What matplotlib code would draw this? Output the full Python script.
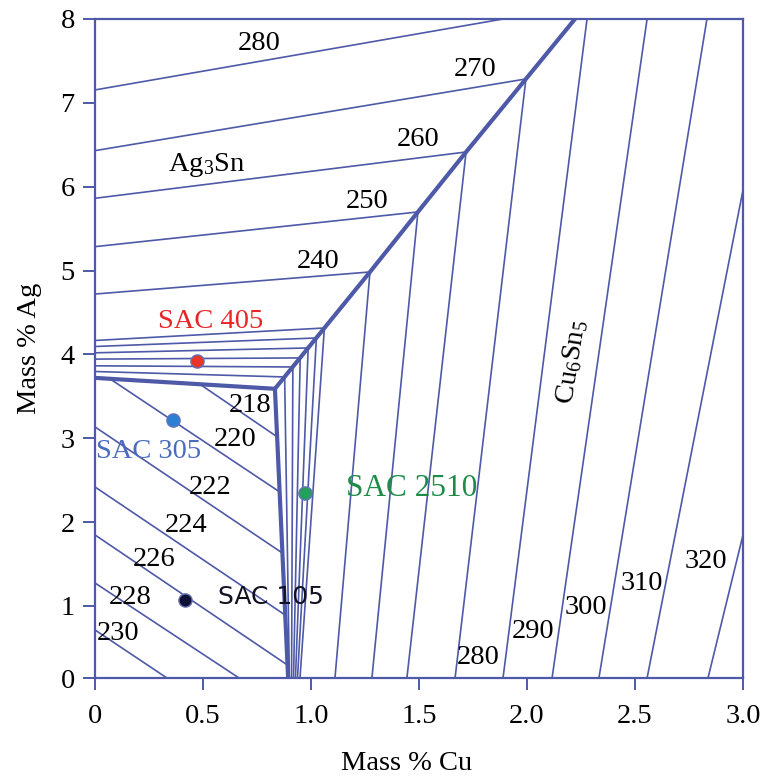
import numpy as np
import matplotlib
matplotlib.use("Agg")
import matplotlib.pyplot as plt

plt.rcParams['font.family'] = ['Liberation Serif', 'DejaVu Serif']
plt.rcParams['mathtext.fontset'] = 'custom'
plt.rcParams['mathtext.rm'] = 'Liberation Serif'
plt.rcParams['mathtext.it'] = 'Liberation Serif:italic'

LINE = '#4E59A8'

# ---------------- data ----------------
x_ticks = [0, 0.5, 1.0, 1.5, 2.0, 2.5, 3.0]
x_ticklabels = ['0', '0.5', '1.0', '1.5', '2.0', '2.5', '3.0']
y_ticks = [0, 1, 2, 3, 4, 5, 6, 7, 8]

# monovariant (thick) boundaries
bnd_left_x = [0.0, 0.833]
bnd_left_y = [3.72, 3.59]
bnd_sn_cu_x = [0.833, 0.894]
bnd_sn_cu_y = [3.59, 0.0]
bnd_ag_cu_x = [0.833, 1.273, 1.495, 1.718, 1.995, 2.222]
bnd_ag_cu_y = [3.59, 4.983, 5.699, 6.414, 7.285, 8.0]

# Sn primary field isotherms (218 ... 230)
sn_labels = ['218', '220', '222', '224', '226', '228', '230']
sn_start_x = [0.486, 0.069, 0.0, 0.0, 0.0, 0.0, 0.0]
sn_start_y = [3.644, 3.709, 3.135, 2.419, 1.847, 1.274, 0.667]
sn_end_x = [0.844, 0.855, 0.867, 0.880, 0.891, 0.667, 0.333]
sn_end_y = [3.016, 2.36, 1.632, 0.875, 0.18, 0.0, 0.0]

# Fine isotherms near the eutectic (Ag3Sn side -> kink -> Cu6Sn5 side)
fan_left_y = [4.166, 4.094, 4.019, 3.944, 3.864, 3.796]
fan_kink_x = [1.062, 1.025, 0.987, 0.950, 0.916, 0.878]
fan_kink_y = [4.315, 4.196, 4.077, 3.958, 3.850, 3.731]
fan_bottom_x = [0.949, 0.9375, 0.928, 0.919, 0.910, 0.900]

# Isotherms 240-270 crossing the Ag3Sn / Cu6Sn5 boundary
mid_labels = ['240', '250', '260', '270']
mid_left_y = [4.72, 5.285, 5.862, 6.43]
mid_kink_x = [1.273, 1.495, 1.718, 1.995]
mid_kink_y = [4.983, 5.699, 6.414, 7.285]
mid_bottom_x = [1.111, 1.282, 1.444, 1.667]

# 280 isotherm in the Ag3Sn field
ag280_x = [0.0, 1.889]
ag280_y = [7.154, 8.0]

# Cu6Sn5 field isotherms 280-320
cu_labels = ['280', '290', '300', '310', '320']
cu_top_x = [2.278, 2.556, 2.833, 3.0, 3.0]
cu_top_y = [8.0, 8.0, 8.0, 5.96, 1.847]
cu_bottom_x = [1.889, 2.116, 2.333, 2.556, 2.838]

# alloys
alloy_names = ['SAC 405', 'SAC 305', 'SAC 2510', 'SAC 105']
alloy_cu = [0.471, 0.3625, 0.972, 0.417]
alloy_ag = [3.925, 3.218, 2.351, 1.071]
alloy_colors = ['#E8352C', '#2C80D3', '#23A05A', '#0E1133']
alloy_text_colors = ['#E8262A', '#4A6CC0', '#1E8C48', '#111122']

# ---------------- figure ----------------
fig = plt.figure(figsize=(7.7, 7.76), dpi=100)
ax = fig.add_axes([95/770, 1-678/776, 648/770, 659/776])

k = 72/83.8
def fwd(y):
    y = np.asarray(y, float)
    return np.where(y < 1, y*k, y - 1 + k)
def inv(t):
    t = np.asarray(t, float)
    return np.where(t < k, t/k, t + 1 - k)
ax.set_yscale('function', functions=(fwd, inv))
ax.set_xlim(0, 3.0)
ax.set_ylim(0, 8)

thin = dict(color=LINE, lw=1.2, solid_capstyle='butt', zorder=2)
thick = dict(color=LINE, lw=3.0, solid_capstyle='round', solid_joinstyle='round', zorder=3)

for sx, sy, ex, ey in zip(sn_start_x, sn_start_y, sn_end_x, sn_end_y):
    ax.plot([sx, ex], [sy, ey], **thin)
for ly, kx, ky, bx in zip(fan_left_y, fan_kink_x, fan_kink_y, fan_bottom_x):
    ax.plot([0, kx, bx], [ly, ky, 0], **thin)
for ly, kx, ky, bx in zip(mid_left_y, mid_kink_x, mid_kink_y, mid_bottom_x):
    ax.plot([0, kx, bx], [ly, ky, 0], **thin)
ax.plot(ag280_x, ag280_y, **thin)
for tx, ty, bx in zip(cu_top_x, cu_top_y, cu_bottom_x):
    ax.plot([tx, bx], [ty, 0], **thin)

ax.plot(bnd_left_x, bnd_left_y, **thick)
ax.plot(bnd_sn_cu_x, bnd_sn_cu_y, **thick)
ax.plot(bnd_ag_cu_x, bnd_ag_cu_y, **thick)

for cx, cy, c in zip(alloy_cu, alloy_ag, alloy_colors):
    ax.plot(cx, cy, 'o', ms=9.5, mfc=c, mec='#6472B8', mew=1.0, zorder=5)

# ---------------- text ----------------
def lab(px, py, s, **kw):
    ax.text((px-95)/648, (678-py)/659, s, transform=ax.transAxes,
            ha='center', va='center', **kw)

fs = 20.5
for s, (px, py) in zip(['280', '270', '260', '250', '240'],
                       [(259, 44), (475, 69), (418, 140), (367, 201), (318, 261)]):
    lab(px, py, s, fontsize=fs)
lab(207, 165, 'Ag$_3$Sn', fontsize=fs)
lab(572, 362, 'Cu$_6$Sn$_5$', fontsize=fs, rotation=81)
for s, (px, py) in zip(sn_labels, [(250, 405), (235, 440), (210, 488), (186, 525),
                                   (154, 560), (130, 597), (118, 633)]):
    lab(px, py, s, fontsize=fs)
for s, (px, py) in zip(cu_labels, [(478, 657), (533, 632), (586, 607), (642, 583), (706, 561)]):
    lab(px, py, s, fontsize=fs)

alloy_pos = [(211, 321), (149, 452), (412, 489), (271, 597)]
alloy_fs = [fs, fs, 22.5, 18]
for name, (px, py), tc, f in zip(alloy_names, alloy_pos, alloy_text_colors, alloy_fs):
    if name == 'SAC 105':
        lab(px, py, name, fontsize=f, color=tc, family='DejaVu Sans')
    else:
        lab(px, py, name, fontsize=f, color=tc)

# ---------------- axes styling ----------------
for sp in ax.spines.values():
    sp.set_color(LINE)
    sp.set_linewidth(1.6)
ax.set_xticks(x_ticks)
ax.set_xticklabels(x_ticklabels)
ax.set_yticks(y_ticks)
ax.set_yticklabels([str(v) for v in y_ticks])
ax.tick_params(axis='both', direction='out', length=8.5, width=1.4, color=LINE,
               labelsize=fs, labelcolor='black')
ax.tick_params(axis='x', pad=10)
ax.tick_params(axis='y', pad=6)
ax.minorticks_off()

ax.set_xlabel('Mass % Cu', fontsize=fs, va='center')
ax.xaxis.set_label_coords((407-95)/648, (678-763)/659)
ax.set_ylabel('Mass % Ag', fontsize=fs, va='center')
ax.yaxis.set_label_coords((30-95)/648, (678-348)/659)

fig.savefig('out.png', dpi=100)
